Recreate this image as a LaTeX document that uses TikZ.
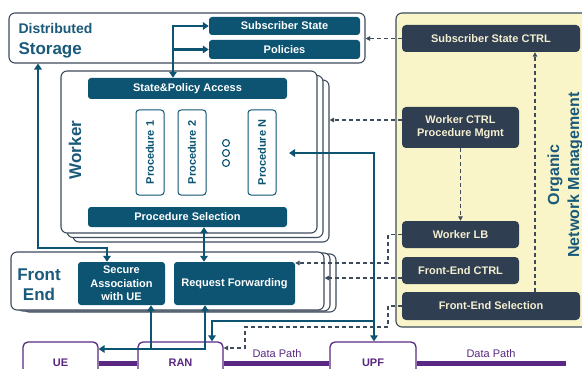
\documentclass[tikz,border=0pt]{standalone}
\usepackage{fontspec}
\setmainfont{Liberation Sans}
\usetikzlibrary{arrows.meta,calc}
\definecolor{tealA}{HTML}{0C5472}
\definecolor{lblC}{HTML}{1A5A7A}
\definecolor{darkB}{HTML}{2F3E50}
\definecolor{bordC}{HTML}{3D4B5B}
\definecolor{yelC}{HTML}{FAF5C8}
\definecolor{purC}{HTML}{5A2882}
\definecolor{creamC}{HTML}{F4EFD2}
\begin{document}
\begin{tikzpicture}[x=1pt,y=-1pt,
  panel/.style={draw=bordC,line width=1.1pt,fill=white,rounded corners=6pt,inner sep=0pt},
  tbox/.style={fill=tealA,rounded corners=3pt,inner sep=0pt,text=white,font=\bfseries\fontsize{11}{13.3}\selectfont,align=center},
  dbox/.style={fill=darkB,rounded corners=4pt,inner sep=0pt,text=creamC,font=\bfseries\fontsize{11}{13.3}\selectfont,align=center},
  pbox/.style={draw=tealA,line width=1pt,rounded corners=3pt,inner sep=0pt,text=tealA,font=\bfseries\fontsize{11}{12}\selectfont,rotate=90},
  bigl/.style={text=lblC,font=\bfseries\fontsize{17}{20}\selectfont},
  ubox/.style={draw=purC,line width=1.3pt,fill=white,rounded corners=5pt,inner sep=0pt,text=purC,font=\bfseries\fontsize{11}{13}\selectfont},
  tl/.style={draw=tealA,line width=2.4pt,>={Triangle[length=6pt,width=7.5pt]}},
  dl/.style={draw=bordC,line width=1.1pt,dash pattern=on 4pt off 3pt,>={Triangle[length=4.5pt,width=4.5pt]}},
  pline/.style={draw=purC,line width=5pt},
  dp/.style={text=purC,font=\fontsize{11}{13}\selectfont,inner sep=0pt}]
\useasboundingbox (0,0) rectangle (582,369);

% Organic Network Management
\node[draw=bordC,line width=1.1pt,fill=yelC,rounded corners=6pt,minimum width=210pt,minimum height=314pt,inner sep=0pt] (onmbox) at (501,170) {};
\node[rotate=90,align=center,text=lblC,font=\bfseries\fontsize{16}{20}\selectfont] (onm) at (565,175) {Organic\\Network Management};
\node[dbox,minimum width=178pt,minimum height=27pt] (sscrtl) at (491,38.5) {Subscriber State CTRL};
\node[dbox,minimum width=117pt,minimum height=41pt] (wctrl) at (460.5,127.5) {Worker CTRL\\Procedure Mgmt};
\node[dbox,minimum width=117pt,minimum height=27pt] (wlb) at (460.5,234.5) {Worker LB};
\node[dbox,minimum width=117pt,minimum height=27pt] (fectrl) at (460.5,270.5) {Front-End CTRL};
\node[dbox,minimum width=178pt,minimum height=28pt] (fesel) at (491,306) {Front-End Selection};

% Distributed storage
\node[panel,minimum width=356pt,minimum height=50pt] (storage) at (187,38) {};
\node[anchor=base west,text=lblC,font=\bfseries\fontsize{14}{16}\selectfont] (dlab1) at (15,34) {Distributed};
\node[anchor=base west,bigl] (dlab2) at (15,55) {Storage};
\node[tbox,minimum width=151pt,minimum height=18pt] (ss) at (284.5,26) {Subscriber State};
\node[tbox,minimum width=151pt,minimum height=19pt] (pol) at (284.5,49.5) {Policies};

% Worker stack
\node[panel,minimum width=256pt,minimum height=162pt] (w3) at (201,161) {};
\node[panel,minimum width=256pt,minimum height=162pt] (w2) at (195,156.5) {};
\node[panel,minimum width=256pt,minimum height=162pt] (worker) at (189,152) {};
\node[rotate=90,bigl] (wlab) at (75,150) {Worker};
\node[tbox,minimum width=199pt,minimum height=21pt] (spa) at (187.5,88.5) {State\&Policy Access};
\node[pbox,minimum width=85pt,minimum height=28pt] (p1) at (150,152.5) {Procedure 1};
\node[pbox,minimum width=85pt,minimum height=28pt] (p2) at (192,152.5) {Procedure 2};
\node[pbox,minimum width=85pt,minimum height=28pt] (pn) at (262,152.5) {Procedure N};
\foreach \i/\yy in {1/143,2/153,3/163}
  \node[circle,draw=tealA,line width=1.1pt,minimum size=7pt,inner sep=0pt] (o\i) at (226,\yy) {};
\node[tbox,minimum width=199pt,minimum height=20pt] (ps) at (187.5,217) {Procedure Selection};

% Front end stack
\node[panel,minimum width=313pt,minimum height=58pt] (fe3) at (179.5,283) {};
\node[panel,minimum width=313pt,minimum height=58pt] (fe2) at (173.5,282) {};
\node[panel,minimum width=313pt,minimum height=58pt] (fe) at (167.5,281) {};
\node[align=center,bigl] (flab) at (39,285) {Front\\End};
\node[tbox,minimum width=87pt,minimum height=43pt] (sa) at (121.5,283.5) {Secure\\Association\\with UE};
\node[tbox,minimum width=121pt,minimum height=43pt] (rf) at (234.5,283.5) {Request Forwarding};

% Data plane
\coordinate (dpend) at (566,363);
\node[ubox,minimum width=75pt,minimum height=42pt] (ue) at (60.5,363) {UE};
\node[ubox,minimum width=85pt,minimum height=42pt] (ran) at (180.5,363) {RAN};
\node[ubox,minimum width=86pt,minimum height=42pt] (upf) at (373,363) {UPF};
\draw[pline] (ue.east) -- (ran.west);
\draw[pline] (ran.east) -- (upf.west);
\draw[pline] (upf.east) -- (dpend);
\node[dp] (dpl1) at (277,354) {Data Path};
\node[dp] (dpl2) at (491,354) {Data Path};

% teal connectors
\coordinate (x173) at (173,0);
\draw[tl,<->] (x173 |- spa.north) |- (ss.west);
\draw[tl,->] (x173 |- pol.west) -- (pol.west);
\coordinate (c38) at (38,248);
\coordinate (c107) at (107,248);
\draw[tl,<->] (storage.south -| c38) -- (c38) -- (c107) -- (sa.north -| c107);
\coordinate (c204) at (204,240);
\draw[tl,<->] (ps.south -| c204) -- (rf.north -| c204);
\coordinate (c289) at (289,153);
\coordinate (c374) at (374,153);
\draw[tl,<->] (c289) -- (c374) -- (upf.north -| c374);
\coordinate (c374b) at (374,321);
\coordinate (c212) at (212,321);
\draw[tl,->] (c374b) -- (c212) -- (ran.north -| c212);
\coordinate (c151) at (151,349);
\coordinate (c205) at (205,349);
\draw[tl,<->] (rf.south -| c205) -- (c205) -- (ue.east |- c205);
\draw[tl,->] (c151) -- (sa.south -| c151);

% dashed control connectors
\draw[dl,->] (sscrtl.west) -- (storage.east |- sscrtl.west);
\coordinate (d120) at (0,120);
\draw[dl,->] (wctrl.west |- d120) -- (w3.east |- d120);
\draw[dl,->] (wctrl.south) -- (wlb.north);
\coordinate (d388a) at (388,263);
\draw[dl,->] (wlb.west) -| (d388a) -- (rf.east |- d388a);
\coordinate (d278) at (0,278);
\draw[dl,->] (fectrl.west |- d278) -- (fe.east |- d278);
\coordinate (d388b) at (388,327);
\coordinate (d245) at (245,348);
\draw[dl,->] (fesel.west) -| (d388b) -| (d245) -- (ran.east |- d245);
\coordinate (d535) at (535,0);
\draw[dl,->] (fesel.north -| d535) -- (sscrtl.south -| d535);
\end{tikzpicture}
\end{document}
